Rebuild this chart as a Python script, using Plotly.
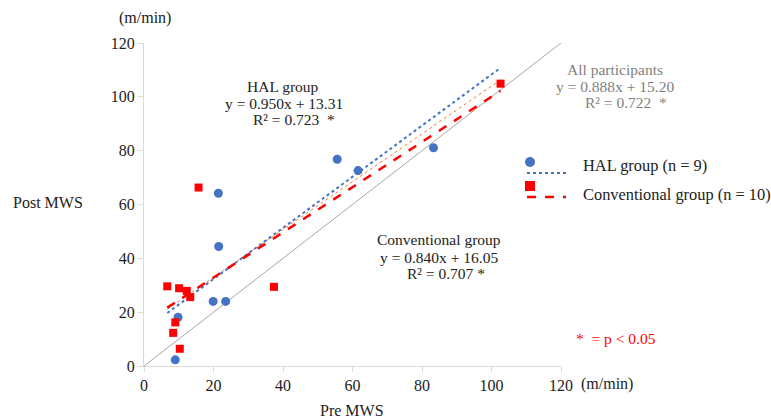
import plotly.graph_objects as go

# ---- data ----
hal_pre = [9.0, 9.8, 19.9, 23.5, 21.5, 21.4, 55.6, 61.6, 83.3]
hal_post = [2.3, 18.1, 24.0, 24.0, 44.4, 64.2, 76.8, 72.6, 81.1]
conv_pre = [15.7, 6.7, 10.1, 12.3, 13.3, 9.0, 8.4, 10.3, 37.4, 102.6]
conv_post = [66.3, 29.6, 28.9, 27.9, 25.6, 16.2, 12.3, 6.4, 29.4, 104.9]
fit_slopes = {"HAL": 0.950, "Conv": 0.840, "All": 0.888}
fit_intercepts = {"HAL": 13.31, "Conv": 16.05, "All": 15.20}
identity = [0, 120]
tick_vals = [0, 20, 40, 60, 80, 100, 120]

FONT = "Liberation Serif, Times New Roman, serif"
BLUE = "#4472C4"
RED = "#FF0000"

all_pre = hal_pre + conv_pre
xmin, xmax = min(all_pre), max(all_pre)
fit_x = [xmin, xmax]


def fit_line(key):
    return [fit_slopes[key] * v + fit_intercepts[key] for v in fit_x]


fig = go.Figure()
fig.add_trace(go.Scatter(x=identity, y=identity, mode="lines",
                         line=dict(color="#A6A6A6", width=1), hoverinfo="skip"))
fig.add_trace(go.Scatter(x=fit_x, y=fit_line("All"), mode="lines",
                         line=dict(color="#ED7D31", width=1, dash="dot")))
fig.add_trace(go.Scatter(x=fit_x, y=fit_line("HAL"), mode="lines",
                         line=dict(color=BLUE, width=2, dash="dot")))
fig.add_trace(go.Scatter(x=fit_x, y=fit_line("Conv"), mode="lines",
                         line=dict(color=RED, width=2.5, dash="dash")))
fig.add_trace(go.Scatter(x=hal_pre, y=hal_post, mode="markers",
                         marker=dict(color=BLUE, size=9, symbol="circle")))
fig.add_trace(go.Scatter(x=conv_pre, y=conv_post, mode="markers",
                         marker=dict(color=RED, size=8, symbol="square")))

axis_common = dict(range=[0, 120], tickvals=tick_vals, showgrid=False, zeroline=False,
                   showline=True, linecolor="#D9D9D9", linewidth=1,
                   ticks="outside", tickcolor="#D9D9D9", ticklen=5,
                   tickfont=dict(family=FONT, size=16, color="#222"))
fig.update_xaxes(**axis_common)
fig.update_yaxes(**axis_common)

L, R, T, B = 144, 210, 43, 53
W, H = 771, 419
pw, ph = W - L - R, H - T - B


def px(x):
    return (x - L) / pw


def py(y):
    return (H - B - y) / ph


anns = []


def txt(x, y, s, color="#222", size=16, xanchor="center"):
    anns.append(dict(x=px(x), y=py(y), xref="paper", yref="paper", text=s, showarrow=False,
                     xanchor=xanchor, yanchor="middle",
                     font=dict(family=FONT, size=size, color=color)))


A = 15.5
txt(145, 18, "(m/min)")
txt(607, 384, "(m/min)")
txt(48, 203, "Post MWS")
txt(352, 410, "Pre MWS")
txt(283, 86, "HAL group", size=A)
txt(284, 103, "y = 0.950x + 13.31", size=A)
txt(294, 120, "R² = 0.723  *", size=A)
txt(615, 69, "All participants", color="#7F7F7F", size=A)
txt(615, 86, "y = 0.888x + 15.20", color="#7F7F7F", size=A)
txt(626, 102, "R² = 0.722  *", color="#7F7F7F", size=A)
txt(439, 240, "Conventional group", size=A)
txt(439, 257, "y = 0.840x + 16.05", size=A)
txt(446, 273, "R² = 0.707 *", size=A)
txt(616, 338, "*  = p < 0.05", color=RED, size=A)
txt(581, 165, "HAL group (n = 9)", xanchor="left", size=16.4)
txt(581, 194, "Conventional group (n = 10)", xanchor="left", size=16.4)

shapes = [
    dict(type="circle", xref="paper", yref="paper", xsizemode="pixel", ysizemode="pixel",
         xanchor=px(530), yanchor=py(162), x0=-5, x1=5, y0=-5, y1=5,
         fillcolor=BLUE, line=dict(width=0)),
    dict(type="line", xref="paper", yref="paper", x0=px(527), x1=px(566), y0=py(173), y1=py(173),
         line=dict(color=BLUE, width=2, dash="dot")),
    dict(type="rect", xref="paper", yref="paper", xsizemode="pixel", ysizemode="pixel",
         xanchor=px(530), yanchor=py(186), x0=-5, x1=5, y0=-5, y1=5,
         fillcolor=RED, line=dict(width=0)),
    dict(type="line", xref="paper", yref="paper", x0=px(527), x1=px(566), y0=py(197), y1=py(197),
         line=dict(color=RED, width=2.5, dash="dash")),
]

fig.update_layout(width=W, height=H, margin=dict(l=L, r=R, t=T, b=B),
                  paper_bgcolor="white", plot_bgcolor="white", showlegend=False,
                  annotations=anns, shapes=shapes)

fig.write_html("out.html", config={"displayModeBar": False},
               post_script="document.body.style.margin='0';")
